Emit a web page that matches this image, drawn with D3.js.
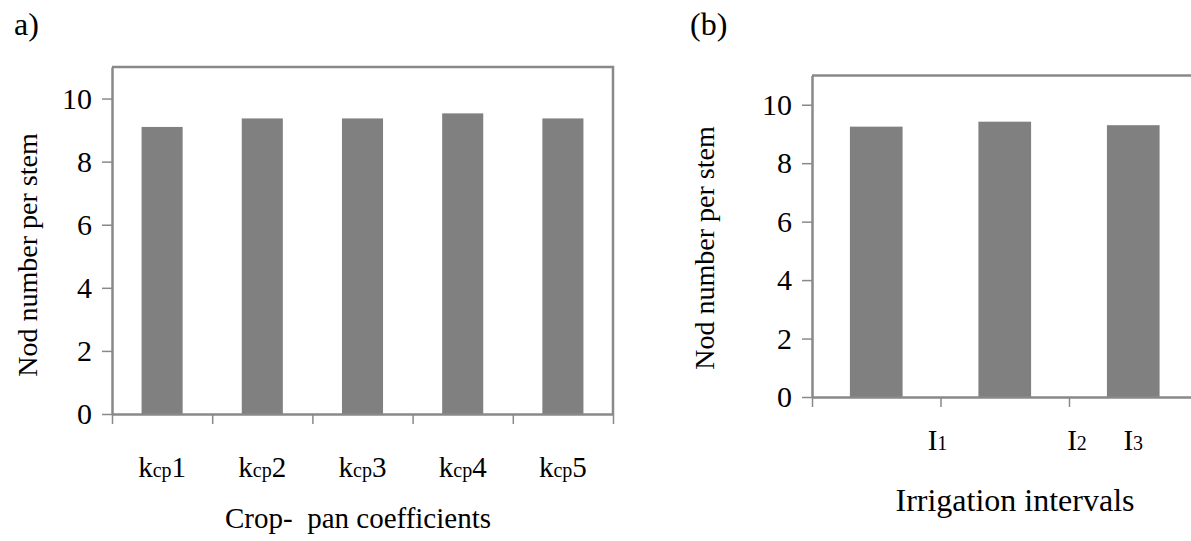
<!DOCTYPE html>
<html>
<head>
<meta charset="utf-8">
<script src="https://cdn.jsdelivr.net/npm/d3@7"></script>
<style>
	body { margin: 0; background: #fff; }
	svg { display: block; }
	svg text, svg tspan { font-family: "Liberation Serif", "Times New Roman", serif !important; fill: #000; }
</style>
</head>
<body>
<svg id="chart" width="1191" height="541"></svg>
<script>
// values
const cropPanCats = ['kcp1', 'kcp2', 'kcp3', 'kcp4', 'kcp5'];
const cropPanNodes = [9.1, 9.37, 9.37, 9.53, 9.37];
const irrigationCats = ['I1', 'I2', 'I3'];
const irrigationNodes = [9.25, 9.42, 9.3];
const yTicks = [0, 2, 4, 6, 8, 10];
const yMax = 11;

const svg = d3.select('#chart');
const barColor = '#808080';
const frameColor = '#898989';
const fontSize = 29;

function drawPanel(p) {
	let x = d3.scaleBand().domain(p.cats).range([p.left, p.right])
		.paddingInner(0.59).paddingOuter(0.295);
	let y = d3.scaleLinear().domain([0, yMax]).range([p.bottom, p.top]);
	// tick marks sit on the band edges
	let edges = d3.scaleLinear().domain([0, p.cats.length]).range([p.left, p.right]);

	let g = svg.append('g');

	// frame (top + right)
	g.append('path')
		.attr('d', `M${p.left},${p.top}H${p.right}V${p.bottom}`)
		.attr('fill', 'none')
		.attr('stroke', frameColor)
		.attr('stroke-width', 2.5);

	g.selectAll('.bar')
		.data(p.values)
		.enter().append('rect')
		.attr('class', 'bar')
		.attr('x', (d, i) => x(p.cats[i]))
		.attr('width', x.bandwidth())
		.attr('y', d => y(d))
		.attr('height', d => y(0) - y(d))
		.attr('fill', barColor);

	let yAxis = g.append('g')
		.attr('transform', `translate(${p.left},0)`)
		.call(d3.axisLeft(y).tickValues(yTicks).tickSize(10).tickPadding(10).tickSizeOuter(0));

	let xAxis = g.append('g')
		.attr('transform', `translate(0,${p.bottom})`)
		.call(d3.axisBottom(edges).ticks(p.cats.length).tickFormat('').tickSize(10).tickSizeOuter(0));

	[yAxis, xAxis].forEach(a => {
		a.attr('font-family', null).attr('font-size', null);
		a.select('.domain').attr('stroke', frameColor).attr('stroke-width', 2.5);
		a.selectAll('.tick line').attr('stroke', frameColor).attr('stroke-width', 1.5);
		a.selectAll('text').style('font-size', '30px');
	});

	// category labels: base letters + small middle part, on one baseline
	let labels = g.selectAll('.cat')
		.data(p.cats)
		.enter().append('text')
		.attr('class', 'cat')
		.attr('x', (d, i) => p.labelX(x, edges, d, i))
		.attr('y', p.labelY)
		.attr('text-anchor', 'middle')
		.style('font-size', fontSize + 'px');
	labels.each(function (d) {
		let parts = p.split(d);
		let t = d3.select(this);
		t.append('tspan').text(parts[0]);
		t.append('tspan').style('font-size', '20px').text(parts[1]);
		if (parts[2]) t.append('tspan').text(parts[2]);
	});

	g.append('text')
		.attr('x', p.xTitleX)
		.attr('y', p.xTitleY)
		.attr('text-anchor', 'middle')
		.style('font-size', p.xTitleSize + 'px')
		.style('white-space', 'pre')
		.text(p.xTitle);

	g.append('text')
		.attr('transform', `translate(${p.yTitleX},${p.yTitleY}) rotate(-90)`)
		.attr('text-anchor', 'middle')
		.style('font-size', '28px')
		.text('Nod number per stem');

	g.append('text')
		.attr('x', p.tagX)
		.attr('y', 35)
		.style('font-size', '32px')
		.text(p.tag);
}

drawPanel({
	cats: cropPanCats, values: cropPanNodes,
	left: 112, right: 613, top: 67, bottom: 414,
	labelX: (x, edges, d) => x(d) + x.bandwidth() / 2,
	labelY: 477,
	split: d => [d.slice(0, 1), d.slice(1, 3), d.slice(3)],
	xTitle: 'Crop-  pan coefficients', xTitleSize: 29, xTitleX: 358, xTitleY: 528,
	yTitleX: 37, yTitleY: 255,
	tag: 'a)', tagX: 14
});

drawPanel({
	cats: irrigationCats, values: irrigationNodes,
	left: 812, right: 1197.5, top: 75.5, bottom: 397,
	// the first two labels sit near the tick marks, the last one under its bar
	labelX: (x, edges, d, i) => i < 2 ? edges(i + 1) + (i ? 8 : -3) : x(d) + x.bandwidth() / 2,
	labelY: 450,
	split: d => [d.slice(0, 1), d.slice(1)],
	xTitle: 'Irrigation intervals', xTitleSize: 32, xTitleX: 1015, xTitleY: 511,
	yTitleX: 714, yTitleY: 248,
	tag: '(b)', tagX: 690
});
</script>
</body>
</html>
